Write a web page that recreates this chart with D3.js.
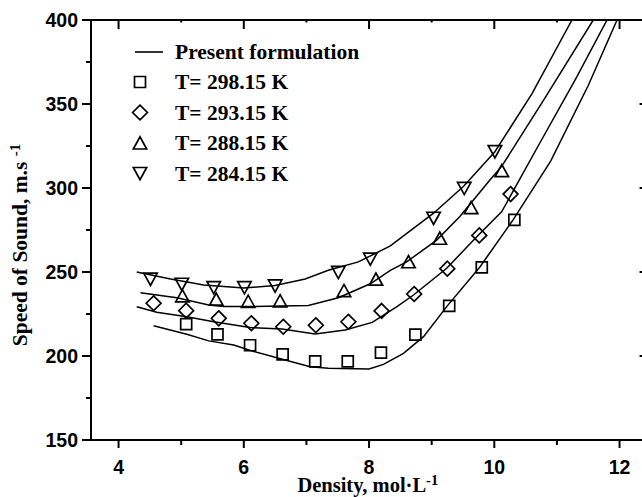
<!DOCTYPE html>
<html>
<head>
<meta charset="utf-8">
<script src="https://cdn.jsdelivr.net/npm/d3@7"></script>
<style>
  body { margin: 0; background: #fff; }
  svg { display: block; }
  .tick-label { font-family: "Liberation Sans", Arial, sans-serif; font-weight: bold; font-size: 19.5px; }
  .title { font-family: "Liberation Serif", "Times New Roman", serif; font-weight: bold; font-size: 21.5px; }
  .xtitle { font-size: 20.5px; }
</style>
</head>
<body>
<svg id="chart"></svg>
<script>
// measured points (density mol/L, speed m/s)
var exp298 = [[5.08,219.0],[5.58,212.9],[6.10,206.4],[6.62,201.0],[7.14,196.8],[7.66,196.8],
              [8.19,202.0],[8.74,212.7],[9.28,229.8],[9.80,252.8],[10.32,281.0]];
var exp293 = [[4.56,231.4],[5.08,227.0],[5.60,222.4],[6.12,219.5],[6.63,217.4],[7.15,218.3],
              [7.67,220.4],[8.20,226.8],[8.72,236.9],[9.25,252.0],[9.76,271.8],[10.26,296.4]];
var exp288 = [[5.02,235.8],[5.56,233.8],[6.07,232.5],[6.58,232.8],[7.60,238.9],[8.11,245.7],
              [8.63,256.1],[9.13,270.1],[9.63,288.3],[10.12,310.3]];
var exp284 = [[4.51,245.7],[5.01,242.7],[5.52,240.7],[6.01,240.7],[6.50,241.7],[7.51,249.8],
              [8.02,257.7],[9.03,282.0],[9.52,299.8],[10.01,321.6]];

// present formulation curves
var fit298 = [[4.56,218],[5.09,213],[5.44,209],[5.84,206.5],[6.13,203],[6.66,197.6],[7.06,193.6],
              [7.35,192.7],[8.0,192.3],[8.23,195],[8.55,201.6],[8.87,211.5],[9.24,229.4],[9.77,253],
              [10.3,281],[10.9,316],[11.5,361],[11.96,400]];
var fit293 = [[4.29,229.3],[4.61,226],[5.09,223.4],[5.52,220.4],[6.1,217],[6.61,216],[7.14,213.1],
              [7.62,215.5],[8.05,220],[8.44,229.3],[8.71,236.3],[9.24,252.2],[9.72,271],[10.12,286],
              [10.7,325],[11.3,365],[11.8,400]];
var fit288 = [[4.35,237.7],[4.93,234.7],[5.44,230.4],[5.68,229.4],[6.1,229.4],[7.03,230],[7.51,234.7],
              [8.02,243],[8.34,251],[8.6,256],[9.08,269],[9.45,283],[9.93,304.8],[10.12,313],
              [10.8,353],[11.58,400]];
var fit284 = [[4.29,250],[4.83,245.8],[5.36,242.3],[6.0,240.5],[6.5,242],[6.98,245.8],[7.35,251],
              [7.83,256],[8.34,265.5],[9.03,285],[9.51,301],[10.01,321.6],[10.6,356],[11.24,400]];

var densityTicks = [4, 6, 8, 10, 12];
var densityMinor = [5, 7, 9, 11];
var speedTicks = [150, 200, 250, 300, 350, 400];
var speedMinor = [175, 225, 275, 325, 375];
var legendLabels = ["T= 298.15 K", "T= 293.15 K", "T= 288.15 K", "T= 284.15 K"];

var width = 642, height = 497;
var plotLeft = 91, plotRight = 644.6, plotTop = 20, plotBottom = 440;

var svg = d3.select("#chart").attr("width", width).attr("height", height);

var x = d3.scaleLinear().domain([3.56, 12.4]).range([plotLeft, plotRight]);
var y = d3.scaleLinear().domain([150, 400]).range([plotBottom, plotTop]);

// symbols
var symbols = {
    square: "M-5.5,-5.5H5.5V5.5H-5.5Z",
    diamond: "M0,-7.4L7.4,0L0,7.4L-7.4,0Z",
    up: "M-6.7,6L6.7,6L0,-6.2Z",
    down: "M-6.7,-6L6.7,-6L0,6.2Z"
};

svg.append("clipPath").attr("id", "plot")
    .append("rect").attr("x", plotLeft).attr("y", plotTop)
    .attr("width", plotRight - plotLeft).attr("height", plotBottom - plotTop);

var line = d3.line()
    .x(function(d) { return x(d[0]); })
    .y(function(d) { return y(d[1]); });

var g = svg.append("g").attr("clip-path", "url(#plot)");

[fit298, fit293, fit288, fit284].forEach(function(c) {
    g.append("path").datum(c)
        .attr("d", line)
        .attr("fill", "none")
        .attr("stroke", "#000")
        .attr("stroke-width", 1.5);
});

var series = [[exp298, "square"], [exp293, "diamond"], [exp288, "up"], [exp284, "down"]];
series.forEach(function(s) {
    g.selectAll(null).data(s[0]).enter().append("path")
        .attr("transform", function(d) { return "translate(" + x(d[0]) + "," + y(d[1]) + ")"; })
        .attr("d", symbols[s[1]])
        .attr("fill", "none")
        .attr("stroke", "#000")
        .attr("stroke-width", 1.7);
});

// axes
function axisLine(x1, y1, x2, y2) {
    svg.append("line").attr("x1", x1).attr("y1", y1).attr("x2", x2).attr("y2", y2)
        .attr("stroke", "#000").attr("stroke-width", 2);
}
axisLine(plotLeft, plotTop, plotRight, plotTop);
axisLine(plotLeft, plotBottom, plotRight, plotBottom);
axisLine(plotLeft, plotTop - 1, plotLeft, plotBottom + 1);
axisLine(plotRight, plotTop, plotRight, plotBottom);

// bottom ticks (outward) and top ticks (inward)
densityTicks.forEach(function(t) {
    axisLine(x(t), plotBottom, x(t), plotBottom + 8);
    axisLine(x(t), plotTop, x(t), plotTop + 9);
});
densityMinor.forEach(function(t) {
    axisLine(x(t), plotBottom, x(t), plotBottom + 5);
    axisLine(x(t), plotTop, x(t), plotTop + 2.5);
});
speedTicks.forEach(function(t) {
    axisLine(plotLeft - 9, y(t), plotLeft, y(t));
    axisLine(plotRight - 5, y(t), plotRight, y(t));
});
speedMinor.forEach(function(t) {
    axisLine(plotLeft - 5, y(t), plotLeft, y(t));
    axisLine(plotRight - 2.5, y(t), plotRight, y(t));
});

svg.selectAll(".xl").data(densityTicks).enter().append("text")
    .attr("class", "tick-label")
    .attr("x", function(d) { return x(d); })
    .attr("y", 474)
    .attr("text-anchor", "middle")
    .text(function(d) { return d; });

svg.selectAll(".yl").data(speedTicks).enter().append("text")
    .attr("class", "tick-label")
    .attr("x", 78)
    .attr("y", function(d) { return y(d) + 7; })
    .attr("text-anchor", "end")
    .text(function(d) { return d; });

// titles
var xt = svg.append("text").attr("class", "title xtitle")
    .attr("x", (plotLeft + plotRight) / 2).attr("y", 491.5).attr("text-anchor", "middle");
xt.append("tspan").text("Density, mol\u00b7L");
xt.append("tspan").attr("dy", -7).attr("font-size", 14.5).text("-1");

var yt = svg.append("text").attr("class", "title")
    .attr("transform", "translate(27,245) rotate(-90)")
    .attr("text-anchor", "middle");
yt.append("tspan").text("Speed of Sound, m.s ");
yt.append("tspan").attr("dy", -7).attr("font-size", 15).text("-1");

// legend
var legend = svg.append("g");
legend.append("line").attr("x1", 135).attr("x2", 163).attr("y1", 52).attr("y2", 52)
    .attr("stroke", "#000").attr("stroke-width", 1.6);
legend.append("text").attr("class", "title").attr("x", 175).attr("y", 59)
    .text("Present formulation");
var keys = ["square", "diamond", "up", "down"];
legendLabels.forEach(function(lab, i) {
    var cy = 82 + i * 30.5;
    legend.append("path")
        .attr("transform", "translate(140," + cy + ")")
        .attr("d", symbols[keys[i]])
        .attr("fill", "none").attr("stroke", "#000").attr("stroke-width", 1.7);
    legend.append("text").attr("class", "title").attr("x", 175).attr("y", cy + 7)
        .text(lab);
});
</script>
</body>
</html>
